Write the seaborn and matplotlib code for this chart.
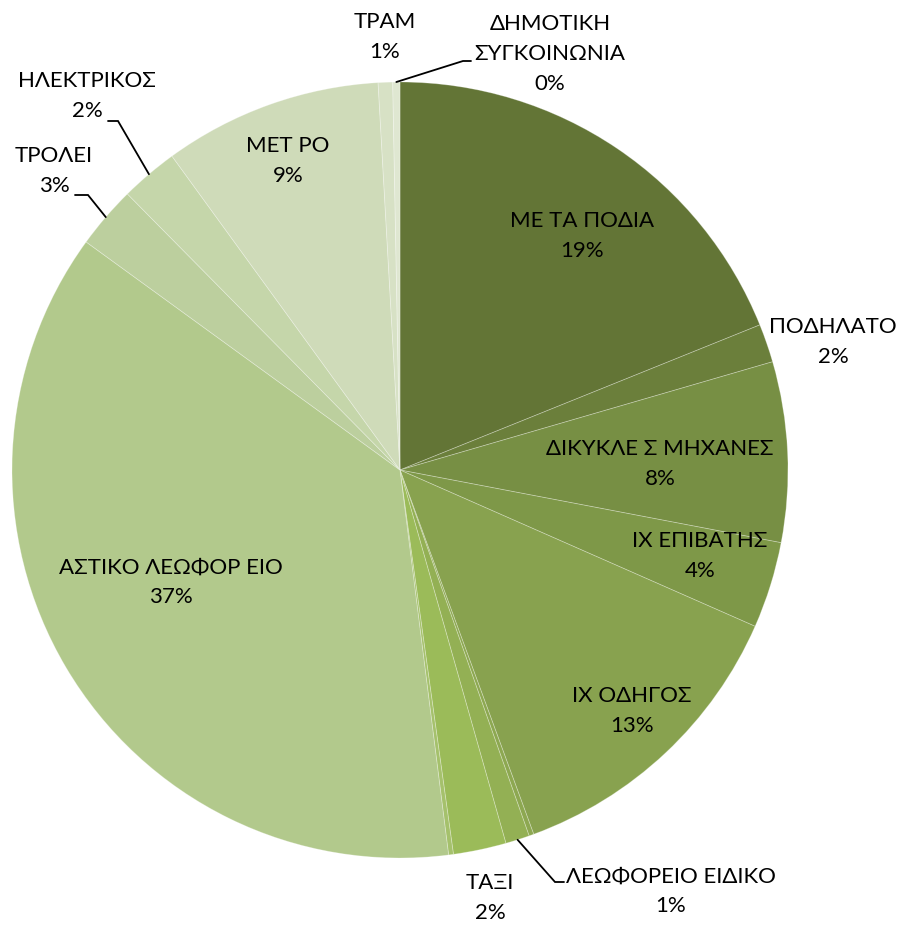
import matplotlib
matplotlib.use("Agg")
import matplotlib.pyplot as plt
import numpy as np
import seaborn as sns

# Trip shares by mode of transport (percent), clockwise from 12 o'clock
categories = [
    "ΜΕ ΤΑ ΠΟΔΙΑ", "ΠΟΔΗΛΑΤΟ", "ΔΙΚΥΚΛΕ Σ ΜΗΧΑΝΕΣ", "ΙΧ ΕΠΙΒΑΤΗΣ",
    "ΙΧ ΟΔΗΓΟΣ", "", "ΛΕΩΦΟΡΕΙΟ ΕΙΔΙΚΟ", "ΤΑΞΙ", "",
    "ΑΣΤΙΚΟ ΛΕΩΦΟΡ ΕΙΟ", "ΤΡΟΛΕΙ", "ΗΛΕΚΤΡΙΚΟΣ", "ΜΕΤ ΡΟ", "ΤΡΑΜ",
    "ΔΗΜΟΤΙΚΗ\nΣΥΓΚΟΙΝΩΝΙΑ",
]
shares = [18.9, 1.6, 7.5, 3.6, 12.8, 0.2, 1.0, 2.2, 0.2,
          37.0, 2.6, 2.4, 9.1, 0.6, 0.3]

colors = ["#637536", "#6b7f3b", "#778f44", "#7e9848", "#88a24f", "#8da851",
          "#93b054", "#9bbb59", "#a5c16c", "#b2c98c", "#bccf9e", "#c5d6aa",
          "#cfdbb9", "#d7e1c5", "#dfe7d1"]

W, H = 902, 925
CX, CY, R = 400, 470, 388          # pie centre / radius in pixels (y from top)

# label centres (pixels from top-left) and optional leader lines
label_pos = {
    0: (582, 236), 1: (833, 342), 2: (660, 464), 3: (700, 556),
    4: (632, 711), 6: (671, 891), 7: (490, 898), 9: (171, 582),
    10: (54, 171), 11: (87, 96), 12: (288, 161), 13: (385, 37),
    14: (550, 54),
}
leaders = {   # elbow point, end point next to the label text
    14: [(463, 61), (471, 61)],
    11: [(118, 121), (108, 121)],
    10: [(88, 195), (75, 195)],
    6: [(555, 882), (564, 882)],
}

sns.set_theme(style="white")
plt.rcParams["font.family"] = ["Lato", "DejaVu Sans"]

fig = plt.figure(figsize=(W / 100, H / 100), dpi=100)
ax = fig.add_axes([0, 0, 1, 1])


def py(y):
    return H - y


wedges, _ = ax.pie(
    shares, colors=colors, startangle=90, counterclock=False,
    center=(CX, py(CY)), radius=R, frame=True,
    wedgeprops=dict(edgecolor=(1, 1, 1, 0.3), linewidth=0.6),
)

for i, name in enumerate(categories):
    if not name:
        continue
    x, y = label_pos[i]
    pct = f"{int(shares[i] + 0.5)}%"
    ax.text(x, py(y), f"{name}\n{pct}", ha="center", va="center",
            fontsize=16, color="black", linespacing=1.6)
    if i in leaders:
        w = wedges[i]
        mid = np.deg2rad((w.theta1 + w.theta2) / 2)
        sx = CX + R * np.cos(mid)
        sy = py(CY) + R * np.sin(mid)
        pts = [(sx, sy)] + [(px, py(pyy)) for px, pyy in leaders[i]]
        ax.plot([p[0] for p in pts], [p[1] for p in pts],
                color="black", linewidth=1.3, solid_joinstyle="miter")

ax.set_xlim(0, W)
ax.set_ylim(0, H)
ax.set_aspect("equal")
ax.axis("off")
fig.savefig("out.png", dpi=100, facecolor="white")
